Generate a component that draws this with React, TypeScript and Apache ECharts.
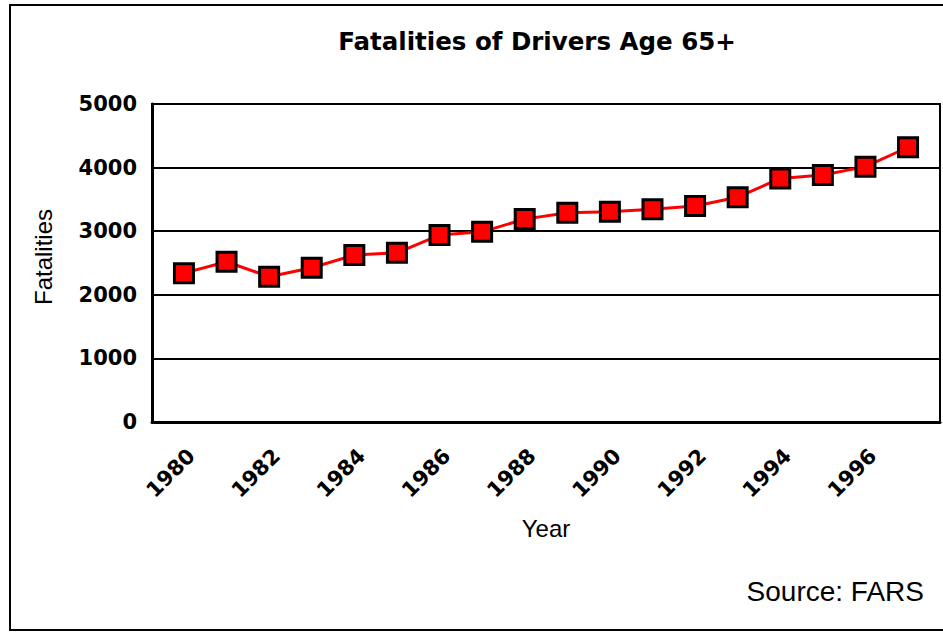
import React, { useEffect, useRef } from "react";
import * as echarts from "echarts";

const years = [1980, 1981, 1982, 1983, 1984, 1985, 1986, 1987, 1988, 1989, 1990, 1991, 1992, 1993, 1994, 1995, 1996, 1997];
const fatalities = [2340, 2520, 2285, 2425, 2625, 2660, 2940, 2990, 3190, 3290, 3305, 3345, 3395, 3535, 3830, 3885, 4015, 4320];
const yearTicks = [1980, 1982, 1984, 1986, 1988, 1990, 1992, 1994, 1996];
const titleText = "Fatalities of Drivers Age 65+";
const sourceText = "Source: FARS";

const BOLD = "'DejaVu Sans', sans-serif";
const REG = "'Liberation Sans', Arial, sans-serif";

export default function App() {
  const ref = useRef<HTMLDivElement>(null);
  useEffect(() => {
    if (!ref.current) return;
    const chart = echarts.init(ref.current, null, { renderer: "svg" });
    chart.setOption({
      animation: false,
      backgroundColor: "#fff",
      title: {
        text: titleText,
        left: 532,
        top: 24,
        textAlign: "center",
        textStyle: { fontFamily: BOLD, fontWeight: "bold", fontSize: 24.5, color: "#000" },
      },
      grid: {
        left: 152,
        top: 104,
        right: 3,
        bottom: 210,
        show: true,
        borderColor: "#000",
        borderWidth: 2,
        backgroundColor: "#fff",
      },
      xAxis: {
        type: "value",
        min: 1979.25,
        max: 1997.75,
        name: "Year",
        nameLocation: "middle",
        nameGap: 94,
        nameTextStyle: { fontFamily: REG, fontSize: 24, color: "#000", verticalAlign: "top" },
        axisLine: { show: true, onZero: false, lineStyle: { color: "#000", width: 3 } },
        axisTick: { show: false },
        splitLine: { show: false },
        axisLabel: {
          customValues: yearTicks,
          rotate: 45,
          align: "right",
          verticalAlign: "top",
          margin: 23,
          formatter: (v: number) => String(v),
          fontFamily: BOLD,
          fontWeight: "bold",
          fontSize: 21,
          color: "#000",
        },
      },
      yAxis: {
        type: "value",
        min: 0,
        max: 5000,
        interval: 1000,
        name: "Fatalities",
        nameLocation: "middle",
        nameGap: 97,
        nameTextStyle: { fontFamily: REG, fontSize: 24, color: "#000", padding: [0, 0, 0, 12] },
        axisLine: { show: true, lineStyle: { color: "#000", width: 3 } },
        axisTick: { show: false },
        splitLine: { show: true, lineStyle: { color: "#000", width: 2 } },
        axisLabel: {
          margin: 15,
          formatter: (v: number) => String(v),
          fontFamily: BOLD,
          fontWeight: "bold",
          fontSize: 21,
          color: "#000",
        },
      },
      series: [
        {
          type: "line",
          data: years.map((y, i) => [y, fatalities[i]]),
          symbol: "rect",
          symbolSize: 19,
          lineStyle: { color: "#ff0000", width: 3 },
          itemStyle: { color: "#ff0000", borderColor: "#000", borderWidth: 3 },
        },
      ],
      graphic: [
        {
          type: "rect",
          shape: { x: 10, y: 5, width: 960, height: 625 },
          style: { fill: "none", stroke: "#000", lineWidth: 2 },
          silent: true,
          z: 100,
        },
        {
          type: "text",
          x: 924,
          y: 591,
          style: {
            text: sourceText,
            fontFamily: REG,
            fontSize: 28,
            fill: "#000",
            textAlign: "right",
            textVerticalAlign: "middle",
          },
        },
      ],
    });
    return () => chart.dispose();
  }, []);
  return (
    <div
      ref={ref}
      style={{ position: "fixed", left: 0, top: 0, width: 943, height: 632 }}
    />
  );
}
